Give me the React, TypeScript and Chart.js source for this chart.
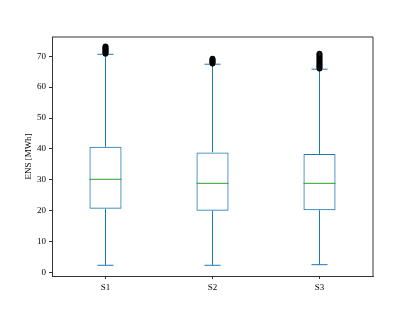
import React, { useEffect, useRef } from "react";
import { Chart, registerables } from "chart.js";

Chart.register(...registerables);

const categories = ["S1", "S2", "S3"];
const q1 = [20.7, 20.0, 20.2];
const median = [30.2, 28.9, 28.9];
const q3 = [40.7, 38.9, 38.4];
const whiskerLow = [2.4, 2.4, 2.6];
const whiskerHigh = [70.6, 67.4, 65.8];
const outliersS1 = [70.8, 71.0, 71.2, 71.4, 71.6, 71.8, 72.0, 72.2, 72.4, 72.6, 72.8, 73.0, 73.2];
const outliersS2 = [67.6, 67.8, 68.0, 68.2, 68.4, 68.6, 68.8, 69.0, 69.2];
const outliersS3 = [66.0, 66.2, 66.5, 66.8, 67.0, 67.3, 67.6, 67.9, 68.2, 68.5, 68.8, 69.1, 69.4, 69.7, 70.0, 70.3, 70.6, 70.8];
const outliers = [outliersS1, outliersS2, outliersS3];
const yTicks = [0, 10, 20, 30, 40, 50, 60, 70];

const FONT = "'Liberation Serif', 'DejaVu Serif', serif";

const boxPlugin = {
  id: "boxExtras",
  afterDatasetsDraw(chart: any) {
    const { ctx, scales, chartArea } = chart;
    const x = scales.x;
    const y = scales.y;
    const step = x.getPixelForValue(1) - x.getPixelForValue(0);
    const capHalf = step * 0.075;
    ctx.save();
    for (let i = 0; i < categories.length; i++) {
      const cx = x.getPixelForValue(i);
      ctx.strokeStyle = "#1f77b4";
      ctx.lineWidth = 1;
      ctx.beginPath();
      ctx.moveTo(cx, y.getPixelForValue(q1[i]));
      ctx.lineTo(cx, y.getPixelForValue(whiskerLow[i]));
      ctx.moveTo(cx, y.getPixelForValue(q3[i]));
      ctx.lineTo(cx, y.getPixelForValue(whiskerHigh[i]));
      ctx.moveTo(cx - capHalf, y.getPixelForValue(whiskerLow[i]));
      ctx.lineTo(cx + capHalf, y.getPixelForValue(whiskerLow[i]));
      ctx.moveTo(cx - capHalf, y.getPixelForValue(whiskerHigh[i]));
      ctx.lineTo(cx + capHalf, y.getPixelForValue(whiskerHigh[i]));
      ctx.stroke();
      const half = step * 0.15;
      ctx.strokeStyle = "#2ca02c";
      ctx.beginPath();
      ctx.moveTo(cx - half, y.getPixelForValue(median[i]));
      ctx.lineTo(cx + half, y.getPixelForValue(median[i]));
      ctx.stroke();
      ctx.strokeStyle = "#000";
      ctx.lineWidth = 1.1;
      for (const v of outliers[i]) {
        ctx.beginPath();
        ctx.arc(cx, y.getPixelForValue(v), 2.3, 0, Math.PI * 2);
        ctx.stroke();
      }
    }
    ctx.strokeStyle = "#000";
    ctx.lineWidth = 0.8;
    ctx.beginPath();
    ctx.moveTo(chartArea.left, chartArea.top);
    ctx.lineTo(chartArea.right, chartArea.top);
    ctx.lineTo(chartArea.right, chartArea.bottom);
    ctx.stroke();
    ctx.restore();
  },
};

export default function App() {
  const ref = useRef<HTMLCanvasElement>(null);
  useEffect(() => {
    if (!ref.current) return;
    const chart = new Chart(ref.current, {
      type: "bar",
      data: {
        labels: categories,
        datasets: [
          {
            data: categories.map((_, i) => [q1[i], q3[i]]) as any,
            backgroundColor: "rgba(0,0,0,0)",
            borderColor: "#1f77b4",
            borderWidth: 1,
            borderSkipped: false,
            categoryPercentage: 1,
            barPercentage: 0.3,
          },
        ],
      },
      options: {
        responsive: false,
        animation: false,
        layout: { padding: { top: 37, right: 42, left: 0, bottom: 0 } },
        plugins: { legend: { display: false }, tooltip: { enabled: false } },
        scales: {
          x: {
            type: "category",
            offset: true,
            grid: { display: true, drawOnChartArea: false, drawTicks: true, tickLength: 3, color: "#000", lineWidth: 0.8, offset: false },
            border: { display: true, color: "#000", width: 0.8 },
            ticks: { color: "#000", font: { family: FONT, size: 9 }, padding: 3 },
            afterFit: (s: any) => { s.height = 35; },
          },
          y: {
            type: "linear",
            min: -1.06,
            max: 76.2,
            afterBuildTicks: (s: any) => { s.ticks = yTicks.map((v) => ({ value: v })); },
            grid: { display: true, drawOnChartArea: false, drawTicks: true, tickLength: 3, color: "#000", lineWidth: 0.8 },
            border: { display: true, color: "#000", width: 0.8 },
            ticks: { color: "#000", font: { family: FONT, size: 9 }, padding: 3 },
            title: { display: true, text: "ENS [MWh]", color: "#000", font: { family: FONT, size: 9 }, padding: { top: 23.5, bottom: 0 } },
            afterFit: (s: any) => { s.width = 52; },
          },
        },
      },
      plugins: [boxPlugin],
    });
    return () => chart.destroy();
  }, []);
  return (
    <div style={{ position: "fixed", left: 0, top: 0, width: 415, height: 311, background: "#fff" }}>
      <canvas ref={ref} width={415} height={311} style={{ width: 415, height: 311 }} />
    </div>
  );
}
